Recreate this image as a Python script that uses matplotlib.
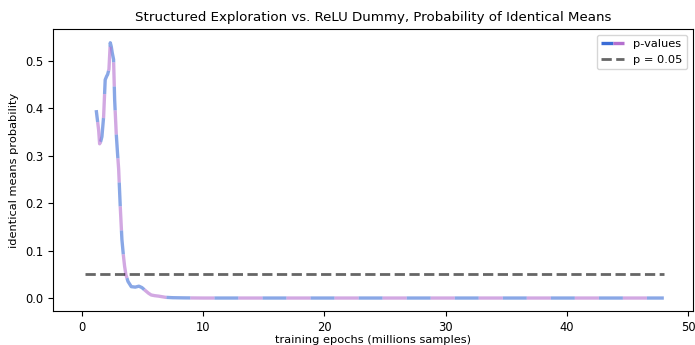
import numpy as np
import matplotlib
matplotlib.use("Agg")
import matplotlib.pyplot as plt
from matplotlib.lines import Line2D
from matplotlib.legend_handler import HandlerTuple

# p-values
epochs = [1.18, 1.38, 1.46, 1.55, 1.65, 1.79, 1.92, 2.05, 2.12, 2.23, 2.34, 2.42, 2.5, 2.61,
          2.7, 2.83, 2.94, 3.03, 3.16, 3.3, 3.42, 3.52, 3.63, 3.8, 4.07, 4.4, 4.7, 4.95,
          5.22, 5.5, 5.72, 6.0, 6.33, 6.9, 7.5, 8.5, 10, 15, 20, 25, 30, 35, 40, 45, 48]
pvals = [0.396, 0.354, 0.325, 0.33, 0.34, 0.382, 0.46, 0.468, 0.471, 0.482, 0.538, 0.53,
         0.517, 0.503, 0.418, 0.347, 0.304, 0.272, 0.194, 0.123, 0.09, 0.067, 0.049, 0.035,
         0.024, 0.023, 0.025, 0.022, 0.016, 0.01, 0.0064, 0.005, 0.004, 0.0015, 0.0007,
         0.0003, 0.0, 0.0, 0.0, 0.0, 0.0, 0.0, 0.0, 0.0, 0.0]
thresh_x = [0.25, 48]
thresh_y = [0.05, 0.05]

blue = "#3a6cd6"
violet = "#b46fcf"

fig = plt.figure(figsize=(6.95, 3.45), dpi=100)
ax = fig.add_axes([0.076, 0.099, 0.921, 0.817])

lw = 2.4
a = 17.3 / lw
# two interleaved dashed lines -> alternating blue / violet segments
ax.plot(epochs, pvals, color=blue, alpha=0.6, lw=lw,
        linestyle=(0.5 * a, (a, a)), dash_capstyle="butt")
ax.plot(epochs, pvals, color=violet, alpha=0.6, lw=lw,
        linestyle=(1.5 * a, (a, a)), dash_capstyle="butt")
l3, = ax.plot(thresh_x, thresh_y, color="k", alpha=0.6, lw=2, linestyle="--")

# legend handle: blue half + violet half, opaque
h1 = Line2D([], [], color=blue, lw=lw, solid_capstyle="butt")
h2 = Line2D([], [], color=violet, lw=lw, solid_capstyle="butt")

ax.set_xlim(-2.4, 50.4)
ax.set_ylim(-0.027, 0.567)
ax.set_xticks([0, 10, 20, 30, 40, 50])
ax.set_yticks([0.0, 0.1, 0.2, 0.3, 0.4, 0.5])
ax.tick_params(labelsize=8.3)
ax.set_xlabel("training epochs (millions samples)", fontsize=8.2, labelpad=1)
ax.set_ylabel("identical means probability", fontsize=8.2)
ax.set_title("Structured Exploration vs. ReLU Dummy, Probability of Identical Means", fontsize=9.6)
ax.legend([(h1, h2), l3], ["p-values", "p = 0.05"], fontsize=8.2, loc="upper right",
          handler_map={tuple: HandlerTuple(ndivide=None, pad=0)})

fig.savefig("out.png", dpi=100)
